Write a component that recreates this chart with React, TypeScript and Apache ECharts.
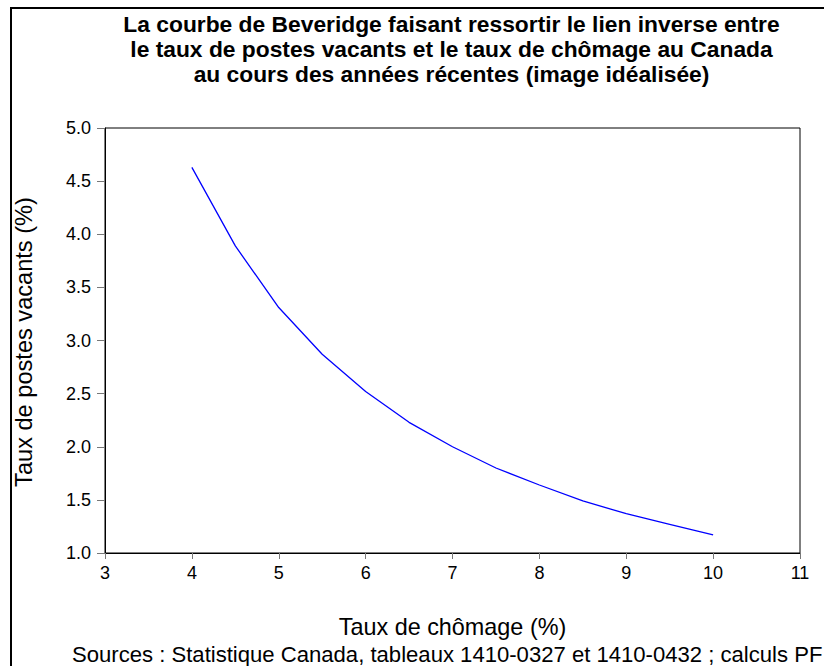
import React, { useEffect, useRef } from "react";
import * as echarts from "echarts";

const titleLines = [
  "La courbe de Beveridge faisant ressortir le lien inverse entre",
  "le taux de postes vacants et le taux de chômage au Canada",
  "au cours des années récentes (image idéalisée)",
];
const xAxisName = "Taux de chômage (%)";
const yAxisName = "Taux de postes vacants (%)";
const sourceText = "Sources : Statistique Canada, tableaux 1410-0327 et 1410-0432 ; calculs PF";

const unemployment = [4, 4.5, 5, 5.5, 6, 6.5, 7, 7.5, 8, 8.5, 9, 9.5, 10];
const vacancies = [4.63, 3.89, 3.31, 2.87, 2.52, 2.23, 2.0, 1.8, 1.64, 1.49, 1.37, 1.27, 1.17];

const FONT = "'Liberation Sans', Arial, sans-serif";

export default function App() {
  const ref = useRef<HTMLDivElement>(null);
  useEffect(() => {
    if (!ref.current) return;
    const chart = echarts.init(ref.current, null, { renderer: "svg" });
    const plotLeft = 105;
    const plotRight = 800;
    const cx = (plotLeft + plotRight) / 2;
    chart.setOption({
      animation: false,
      backgroundColor: "#ffffff",
      textStyle: { fontFamily: FONT },
      grid: {
        left: plotLeft,
        top: 128,
        width: plotRight - plotLeft,
        height: 425,
        show: true,
        borderColor: "#000",
        borderWidth: 1,
        containLabel: false,
      },
      xAxis: {
        type: "value",
        min: 3,
        max: 11,
        interval: 1,
        axisLine: { show: true, lineStyle: { color: "#000", width: 1 } },
        axisTick: { show: true, inside: false, length: 6, lineStyle: { color: "#777" } },
        axisLabel: { color: "#000", fontSize: 18, fontFamily: FONT, margin: 11 },
        splitLine: { show: false },
      },
      yAxis: {
        type: "value",
        min: 1,
        max: 5,
        interval: 0.5,
        axisLine: { show: true, lineStyle: { color: "#000", width: 1 } },
        axisTick: { show: true, inside: false, length: 8, lineStyle: { color: "#777" } },
        axisLabel: {
          color: "#000",
          fontSize: 18,
          fontFamily: FONT,
          margin: 14,
          formatter: (v: number) => v.toFixed(1),
        },
        splitLine: { show: false },
      },
      series: [
        {
          type: "line",
          data: unemployment.map((x, i) => [x, vacancies[i]]),
          showSymbol: false,
          symbol: "none",
          smooth: false,
          lineStyle: { color: "#0000ff", width: 1.3 },
        },
      ],
      graphic: [
        {
          type: "rect",
          shape: { x: 11, y: 8, width: 900, height: 800 },
          style: { fill: "none", stroke: "#000", lineWidth: 2 },
          silent: true,
        },
        ...titleLines.map((t, i) => ({
          type: "text",
          x: cx - 1,
          y: 24 + i * 25,
          style: {
            text: t,
            fill: "#000",
            font: `bold 22.8px ${FONT}`,
            align: "center",
            verticalAlign: "middle",
          },
        })),
        {
          type: "text",
          x: cx,
          y: 627,
          style: {
            text: xAxisName,
            fill: "#000",
            font: `23.4px ${FONT}`,
            align: "center",
            verticalAlign: "middle",
          },
        },
        {
          type: "text",
          x: 24,
          y: 342,
          rotation: Math.PI / 2,
          style: {
            text: yAxisName,
            fill: "#000",
            font: `23.6px ${FONT}`,
            align: "center",
            verticalAlign: "middle",
          },
        },
        {
          type: "text",
          x: 72,
          y: 654,
          style: {
            text: sourceText,
            fill: "#000",
            font: `22.1px ${FONT}`,
            align: "left",
            verticalAlign: "middle",
          },
        },
      ],
    });
    return () => chart.dispose();
  }, []);
  return (
    <div
      ref={ref}
      style={{ position: "fixed", left: 0, top: 0, width: 824, height: 666, background: "#fff" }}
    />
  );
}
